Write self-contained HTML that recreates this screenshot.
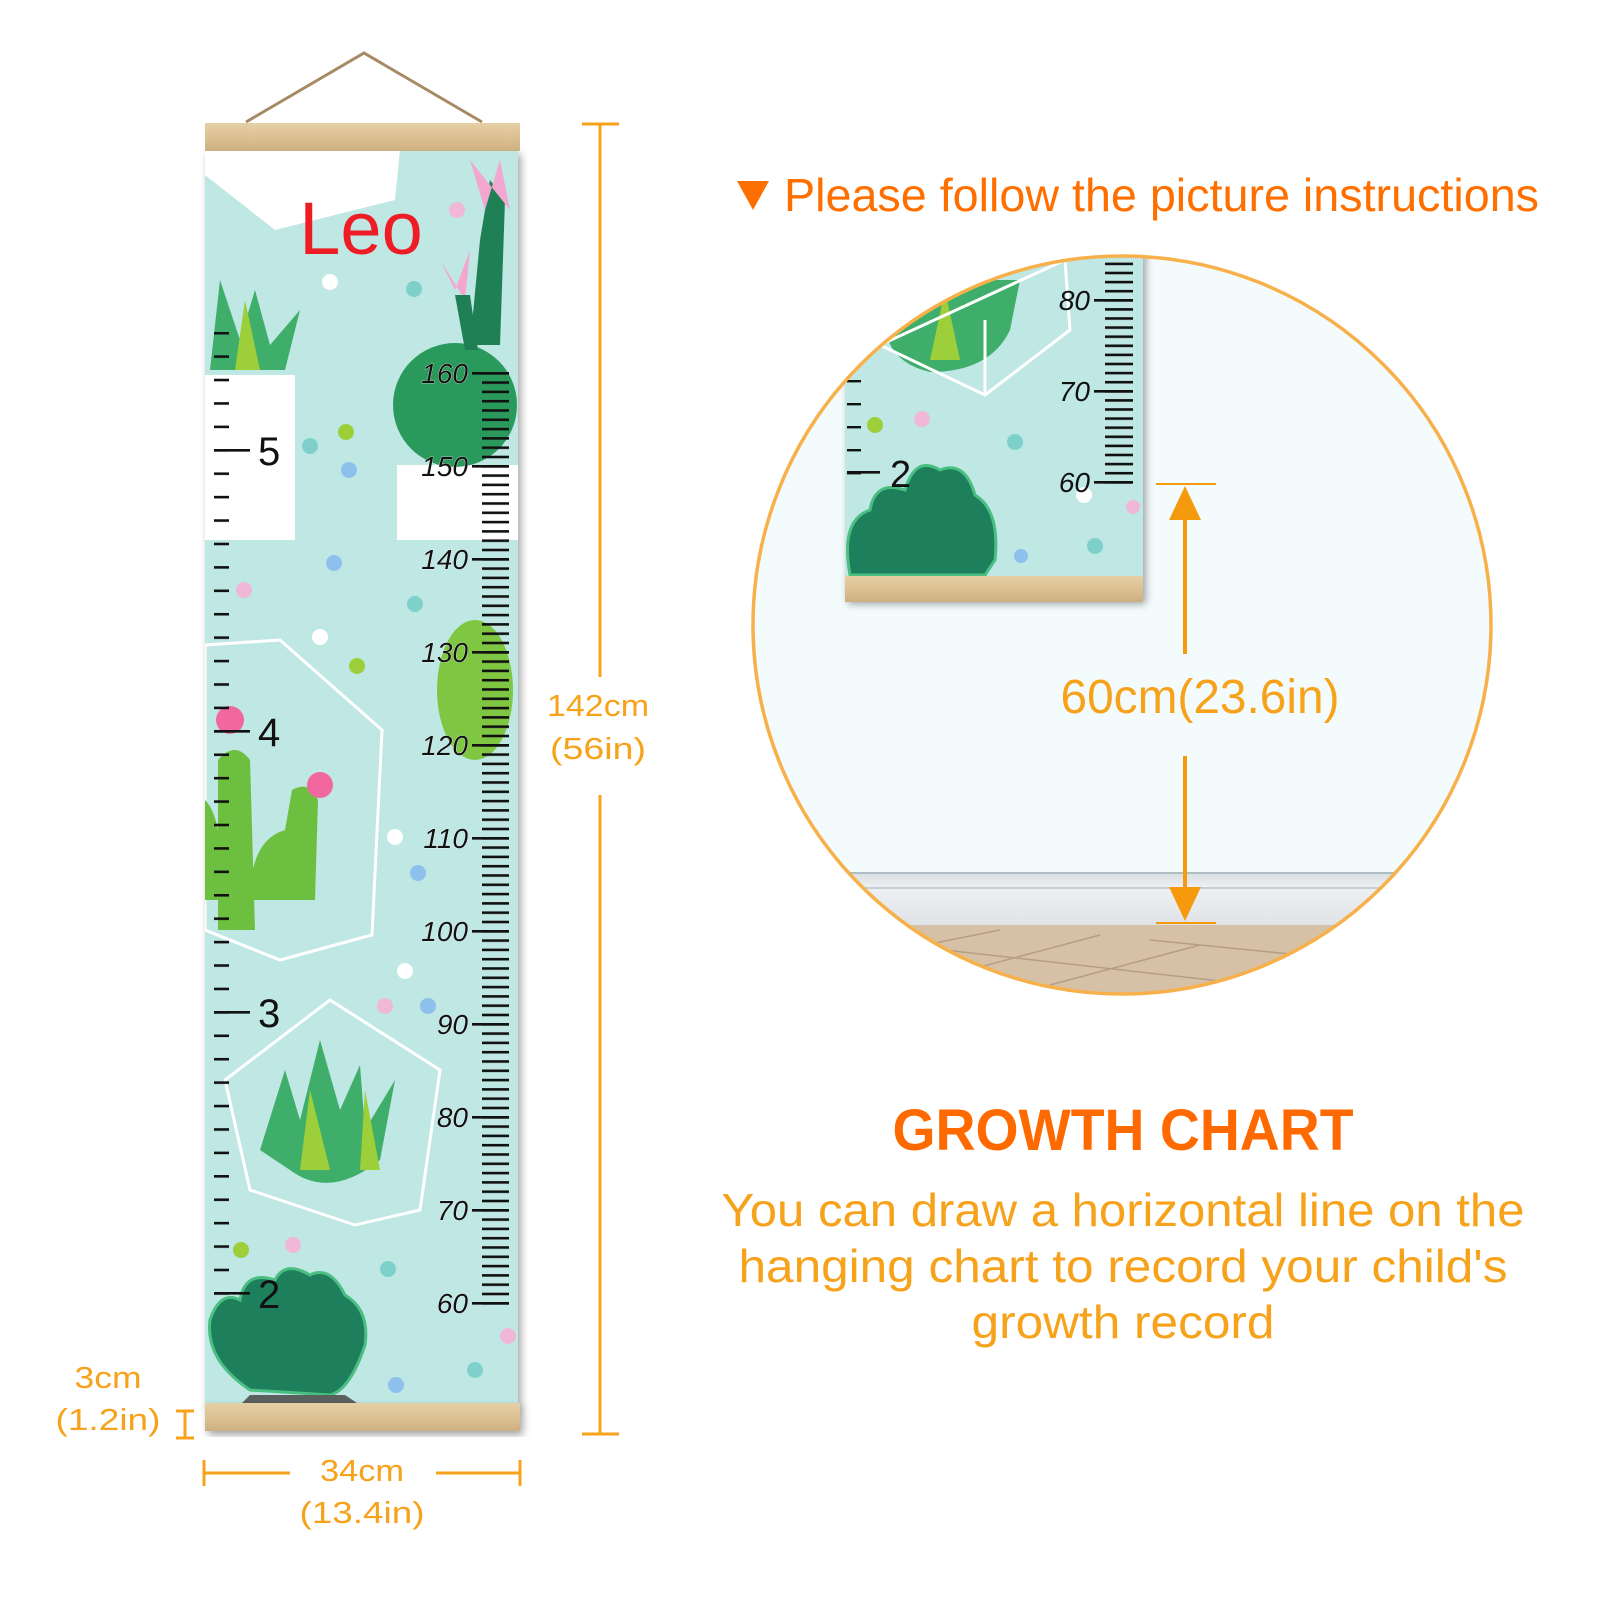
<!DOCTYPE html>
<html><head><meta charset="utf-8"><style>
html,body{margin:0;padding:0;background:#fff;}
svg{display:block}
</style></head><body>
<svg width="1600" height="1600" viewBox="0 0 1600 1600" xmlns="http://www.w3.org/2000/svg" font-family="Liberation Sans, sans-serif">
<defs>
<pattern id="rt" patternUnits="userSpaceOnUse" x="0" y="372" width="40" height="9.3"><rect x="0" y="0" width="40" height="2.6" fill="#111"/></pattern>
<pattern id="lt" patternUnits="userSpaceOnUse" x="0" y="449" width="40" height="23.42"><rect x="0" y="0" width="40" height="2.6" fill="#111"/></pattern>
<pattern id="rt2" patternUnits="userSpaceOnUse" x="0" y="299" width="40" height="9.1"><rect x="0" y="0" width="40" height="2.6" fill="#111"/></pattern>
<pattern id="lt2" patternUnits="userSpaceOnUse" x="0" y="380" width="40" height="23"><rect x="0" y="0" width="40" height="2.4" fill="#111"/></pattern>
<linearGradient id="wood" x1="0" y1="0" x2="0" y2="1"><stop offset="0" stop-color="#e6cfa6"/><stop offset="0.5" stop-color="#dcc192"/><stop offset="1" stop-color="#cdb082"/></linearGradient>
<linearGradient id="base" x1="0" y1="0" x2="0" y2="1"><stop offset="0" stop-color="#d8dde0"/><stop offset="0.3" stop-color="#eef1f3"/><stop offset="1" stop-color="#dfe3e7"/></linearGradient>
<clipPath id="cc"><circle cx="1122" cy="625" r="369"/></clipPath>
<clipPath id="canvas"><rect x="205" y="150" width="313" height="1255"/></clipPath>
<filter id="sh" x="-10%" y="-10%" width="130%" height="130%"><feDropShadow dx="3" dy="4" stdDeviation="4" flood-opacity="0.35"/></filter>
</defs>

<path d="M246 122 L364 53 L482 122" fill="none" stroke="#a78a64" stroke-width="3"/>

<g filter="url(#sh)">
<rect x="205" y="150" width="313" height="1256" fill="#bfe7e4"/>
</g>
<g clip-path="url(#canvas)">
 <polygon points="205,150 400,150 395,200 275,230 205,175" fill="#fff"/>
 <rect x="205" y="375" width="90" height="165" fill="#fff"/>
 <rect x="397" y="465" width="121" height="75" fill="#fff"/>
 <polygon points="205,645 280,640 382,730 372,935 280,960 205,930" fill="none" stroke="#fff" stroke-width="3"/>
 <polygon points="225,1080 330,1000 440,1070 420,1210 355,1225 250,1190" fill="none" stroke="#fff" stroke-width="3"/>
 <path d="M210 370 L220 280 L240 340 L255 290 L270 345 L300 310 L285 370 Z" fill="#3fae6a"/>
 <path d="M235 370 L245 300 L260 370Z" fill="#9ccf3a"/>
 <circle cx="455" cy="405" r="62" fill="#2a9a5c"/>
 <path d="M470 345 L480 240 L490 180 L505 200 L500 345Z" fill="#1f8055"/>
 <path d="M470 160 L485 210 L500 160 L510 210Z" fill="#f3a6cf"/>
 <path d="M440 260 L455 290 L470 250 L465 300Z" fill="#f3a6cf"/>
 <path d="M455 295 L465 350 L478 350 L470 295Z" fill="#1f8055"/>
 <ellipse cx="475" cy="690" rx="38" ry="70" fill="#7fc742"/>
 <path d="M218 930 L218 760 Q235 740 250 760 L255 930Z" fill="#6cbf3f"/>
 <path d="M250 900 Q250 840 285 830 L292 790 Q310 780 318 800 L315 900Z" fill="#6cbf3f"/>
 <path d="M205 800 Q225 820 220 900 L205 900Z" fill="#6cbf3f"/>
 <circle cx="320" cy="785" r="13" fill="#f2679e"/>
 <circle cx="230" cy="720" r="14" fill="#f2679e"/>
 <path d="M260 1150 L285 1070 L300 1120 L320 1040 L340 1110 L360 1065 L365 1130 L395 1080 L380 1160 Q330 1200 290 1170 Z" fill="#3fae6a"/>
 <path d="M300 1170 L310 1090 L330 1170Z" fill="#9ccf3a"/>
 <path d="M360 1170 L365 1090 L380 1170Z" fill="#9ccf3a"/>
 <path d="M250 1390 Q205 1360 210 1320 Q220 1290 240 1300 Q245 1270 275 1280 Q285 1260 310 1275 Q330 1265 345 1295 Q370 1310 365 1345 Q350 1390 330 1395 Z" fill="#1d7f5c" stroke="#4bbf82" stroke-width="3"/>
 <polygon points="250,1395 345,1395 360,1405 240,1405" fill="#5b5f5e"/>
 <g>
 <circle cx="330" cy="282" r="8" fill="#fff"/><circle cx="414" cy="289" r="8" fill="#7fd0cb"/>
 <circle cx="457" cy="210" r="8" fill="#f0b7d8"/><circle cx="346" cy="432" r="8" fill="#9ccf3a"/>
 <circle cx="310" cy="446" r="8" fill="#7fd0cb"/><circle cx="349" cy="470" r="8" fill="#8ec0ee"/>
 <circle cx="334" cy="563" r="8" fill="#8ec0ee"/><circle cx="244" cy="590" r="8" fill="#f0b7d8"/>
 <circle cx="415" cy="604" r="8" fill="#7fd0cb"/><circle cx="320" cy="637" r="8" fill="#fff"/>
 <circle cx="357" cy="666" r="8" fill="#9ccf3a"/><circle cx="395" cy="837" r="8" fill="#fff"/>
 <circle cx="418" cy="873" r="8" fill="#8ec0ee"/><circle cx="405" cy="971" r="8" fill="#fff"/>
 <circle cx="385" cy="1006" r="8" fill="#f0b7d8"/><circle cx="428" cy="1006" r="8" fill="#8ec0ee"/>
 <circle cx="241" cy="1250" r="8" fill="#9ccf3a"/><circle cx="293" cy="1245" r="8" fill="#f0b7d8"/>
 <circle cx="388" cy="1269" r="8" fill="#7fd0cb"/><circle cx="508" cy="1336" r="8" fill="#f0b7d8"/>
 <circle cx="475" cy="1370" r="8" fill="#7fd0cb"/><circle cx="396" cy="1385" r="8" fill="#8ec0ee"/>
 </g>
</g>
<text x="361" y="254" font-size="74" fill="#ee1c25" text-anchor="middle">Leo</text>
<rect x="482" y="372" width="27" height="933" fill="url(#rt)"/>
<g stroke="#111" stroke-width="2.6">
<line x1="472" y1="373.3" x2="509" y2="373.3"/><line x1="472" y1="466.3" x2="509" y2="466.3"/><line x1="472" y1="559.3" x2="509" y2="559.3"/><line x1="472" y1="652.3" x2="509" y2="652.3"/><line x1="472" y1="745.3" x2="509" y2="745.3"/><line x1="472" y1="838.3" x2="509" y2="838.3"/><line x1="472" y1="931.3" x2="509" y2="931.3"/><line x1="472" y1="1024.3" x2="509" y2="1024.3"/><line x1="472" y1="1117.3" x2="509" y2="1117.3"/><line x1="472" y1="1210.3" x2="509" y2="1210.3"/><line x1="472" y1="1303.3" x2="509" y2="1303.3"/>
</g>
<g font-size="28" font-style="italic" fill="#111" text-anchor="end" stroke="#fff" stroke-width="0.6" paint-order="stroke">
<text x="468" y="383">160</text><text x="468" y="476">150</text><text x="468" y="569">140</text><text x="468" y="662">130</text><text x="468" y="755">120</text><text x="468" y="848">110</text><text x="468" y="941">100</text><text x="468" y="1034">90</text><text x="468" y="1127">80</text><text x="468" y="1220">70</text><text x="468" y="1313">60</text>
</g>
<rect x="214" y="332" width="15" height="965" fill="url(#lt)"/>
<g stroke="#111" stroke-width="2.6">
<line x1="214" y1="450.3" x2="250" y2="450.3"/><line x1="214" y1="731.3" x2="250" y2="731.3"/><line x1="214" y1="1012.3" x2="250" y2="1012.3"/><line x1="214" y1="1293.3" x2="250" y2="1293.3"/>
</g>
<g font-size="40" fill="#111">
<text x="258" y="465">5</text><text x="258" y="746">4</text><text x="258" y="1027">3</text><text x="258" y="1308">2</text>
</g>
<rect x="205" y="123" width="315" height="28" fill="url(#wood)"/>
<rect x="205" y="1403" width="315" height="28" fill="url(#wood)" filter="url(#sh)"/>

<g stroke="#f7a21b" stroke-width="3" fill="none">
<line x1="600" y1="124" x2="600" y2="677"/><line x1="600" y1="795" x2="600" y2="1434"/>
<line x1="582" y1="124" x2="619" y2="124"/><line x1="582" y1="1434" x2="619" y2="1434"/>
<line x1="203" y1="1473" x2="290" y2="1473"/><line x1="436" y1="1473" x2="521" y2="1473"/>
<line x1="204" y1="1460" x2="204" y2="1486"/><line x1="520" y1="1460" x2="520" y2="1486"/>
<line x1="185" y1="1411" x2="185" y2="1438"/><line x1="176" y1="1411" x2="194" y2="1411"/><line x1="176" y1="1438" x2="194" y2="1438"/>
</g>
<g fill="#f7a21b" font-size="31" text-anchor="middle">
<text x="598" y="716" textLength="102" lengthAdjust="spacingAndGlyphs">142cm</text>
<text x="598" y="759" textLength="96" lengthAdjust="spacingAndGlyphs">(56in)</text>
<text x="362" y="1481" textLength="84" lengthAdjust="spacingAndGlyphs">34cm</text>
<text x="362" y="1523" textLength="125" lengthAdjust="spacingAndGlyphs">(13.4in)</text>
<text x="108" y="1388" textLength="67" lengthAdjust="spacingAndGlyphs">3cm</text>
<text x="108" y="1430" textLength="105" lengthAdjust="spacingAndGlyphs">(1.2in)</text>
</g>

<polygon points="737,181 769,181 753,210" fill="#ff6f00"/>
<text x="784" y="211" font-size="46" fill="#ff6f00" textLength="755" lengthAdjust="spacingAndGlyphs">Please follow the picture instructions</text>

<g clip-path="url(#cc)">
<rect x="740" y="250" width="770" height="760" fill="#f4fbfd"/>
<rect x="740" y="872" width="770" height="53" fill="url(#base)"/>
<line x1="740" y1="873" x2="1510" y2="873" stroke="#9fb3b8" stroke-width="1.5"/>
<line x1="740" y1="888" x2="1510" y2="888" stroke="#c8cdd1" stroke-width="2"/>
<rect x="740" y="925" width="770" height="90" fill="#d6c1a6"/>
<g stroke="#b59e82" stroke-width="1.5">
<line x1="850" y1="960" x2="1000" y2="930"/><line x1="950" y1="975" x2="1100" y2="935"/><line x1="1050" y1="985" x2="1200" y2="945"/><line x1="900" y1="945" x2="1300" y2="990"/><line x1="1150" y1="940" x2="1350" y2="960"/>
</g>
<g filter="url(#sh)"><rect x="845" y="240" width="298" height="360" fill="#bfe7e4"/></g>
<path d="M885 310 Q880 360 930 372 Q990 372 1010 330 L1020 280 L900 280 Z" fill="#3fae6a"/>
<path d="M930 360 L945 290 L960 360Z" fill="#9ccf3a"/>
<polygon points="880,345 985,395 1070,330 1065,260" fill="none" stroke="#fff" stroke-width="3"/>
<line x1="985" y1="395" x2="985" y2="320" stroke="#fff" stroke-width="3"/>
<path d="M850 575 Q840 520 870 510 Q875 480 905 490 Q915 455 940 470 Q965 460 975 495 Q1000 510 995 560 L985 575 Z" fill="#1d7f5c" stroke="#4bbf82" stroke-width="3"/>
<circle cx="875" cy="425" r="8" fill="#9ccf3a"/><circle cx="922" cy="419" r="8" fill="#f0b7d8"/>
<circle cx="1015" cy="442" r="8" fill="#7fd0cb"/><circle cx="1021" cy="556" r="7" fill="#8ec0ee"/>
<circle cx="1095" cy="546" r="8" fill="#7fd0cb"/><circle cx="1133" cy="507" r="7" fill="#f0b7d8"/>
<circle cx="1084" cy="495" r="8" fill="#fff"/>
<rect x="1105" y="260" width="28" height="224" fill="url(#rt2)"/>
<g stroke="#111" stroke-width="2.6"><line x1="1094" y1="300.3" x2="1133" y2="300.3"/><line x1="1094" y1="391.3" x2="1133" y2="391.3"/><line x1="1094" y1="482.3" x2="1133" y2="482.3"/>
<line x1="847" y1="472.3" x2="880" y2="472.3"/></g>
<rect x="847" y="380" width="14" height="95" fill="url(#lt2)"/>
<g font-size="28" font-style="italic" fill="#111" text-anchor="end"><text x="1090" y="310">80</text><text x="1090" y="401">70</text><text x="1090" y="492">60</text></g>
<text x="890" y="487" font-size="38" fill="#111">2</text>
<rect x="845" y="576" width="298" height="26" fill="url(#wood)"/>
</g>
<circle cx="1122" cy="625" r="369" fill="none" stroke="#f7b04a" stroke-width="3.5"/>

<g stroke="#f59a0c" fill="#f59a0c">
<line x1="1156" y1="484" x2="1216" y2="484" stroke-width="2"/>
<line x1="1156" y1="923" x2="1216" y2="923" stroke-width="2"/>
<line x1="1185" y1="505" x2="1185" y2="654" stroke-width="4"/>
<line x1="1185" y1="756" x2="1185" y2="900" stroke-width="4"/>
<polygon points="1185,486 1169,520 1201,520" stroke="none"/>
<polygon points="1185,921 1169,887 1201,887" stroke="none"/>
</g>
<text x="1200" y="713" font-size="48" fill="#f7a21b" text-anchor="middle" textLength="279" lengthAdjust="spacingAndGlyphs">60cm(23.6in)</text>

<text x="1123" y="1150" font-size="58" font-weight="bold" fill="#ff6a00" text-anchor="middle" textLength="461" lengthAdjust="spacingAndGlyphs">GROWTH CHART</text>
<g font-size="46" fill="#f7a21b" text-anchor="middle">
<text x="1123" y="1226" textLength="803" lengthAdjust="spacingAndGlyphs">You can draw a horizontal line on the</text>
<text x="1123" y="1282" textLength="769" lengthAdjust="spacingAndGlyphs">hanging chart to record your child's</text>
<text x="1123" y="1338" textLength="303" lengthAdjust="spacingAndGlyphs">growth record</text>
</g>
</svg>
</body></html>
